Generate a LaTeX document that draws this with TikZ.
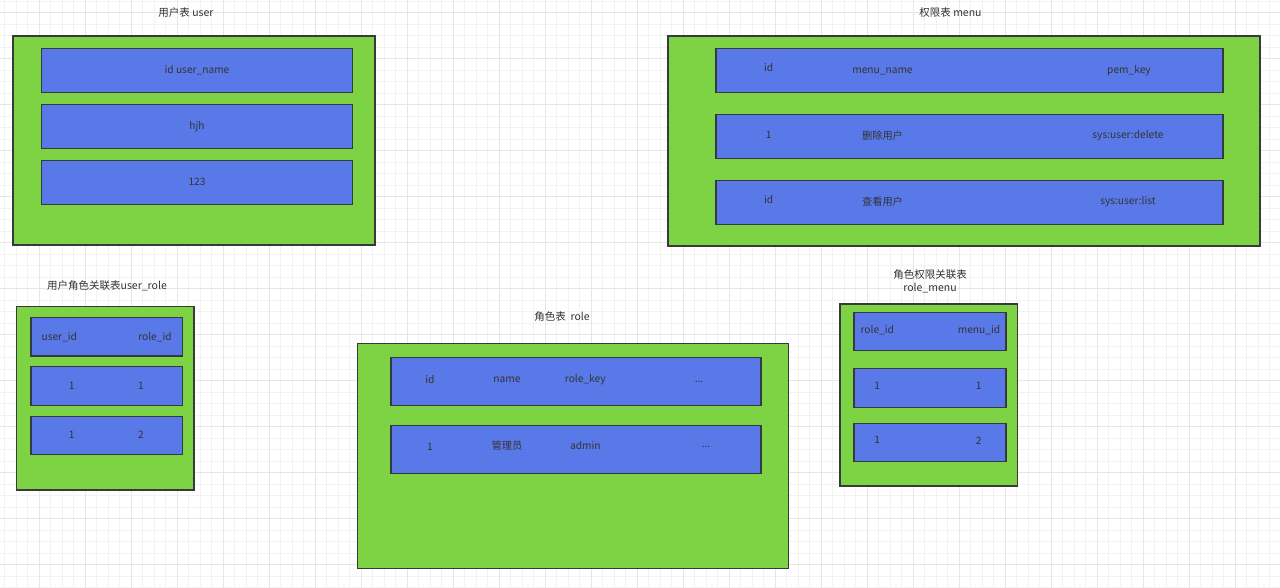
\documentclass[tikz,border=0pt]{standalone}
\usepackage{fontspec}
\setmainfont{Noto Sans CJK SC}
\usetikzlibrary{positioning}

\definecolor{tblgreen}{HTML}{7ED344}
\definecolor{rowblue}{HTML}{5A79E8}
\definecolor{edgegray}{HTML}{36393D}
\definecolor{txtgray}{HTML}{333333}
\definecolor{gridminor}{HTML}{F2F2F2}
\definecolor{gridmajor}{HTML}{E6E6E6}

\begin{document}
\begin{tikzpicture}
		[x=1bp, y=-1bp, node distance={12bp},
		tbl/.style = {draw=edgegray, fill=tblgreen, line width=1.2bp, anchor=north west, inner sep=0, outer sep=0},
		row/.style = {draw=edgegray, fill=rowblue, line width=1.2bp, anchor=north west, inner sep=0, outer sep=0},
		title/.style = {text=txtgray, font=\fontsize{10.5bp}{13.3bp}\selectfont, align=center, inner sep=0},
		cell/.style = {text=txtgray, font=\fontsize{10.2bp}{12bp}\selectfont, inner sep=0}]
        \useasboundingbox (0,0) rectangle (1280,588);
        \fill[white] (0,0) rectangle (1280,588);

        % background grid
        \foreach \gx in {0,...,111}
            \draw[gridminor, line width=1bp] ({4.5+11.5*\gx},0) -- ++(0,588);
        \foreach \gy in {0,...,51}
            \draw[gridminor, line width=1bp] (0,{1.2+11.5*\gy}) -- ++(1280,0);
        \foreach \gx in {0,...,27}
            \draw[gridmajor, line width=1bp] ({39+46*\gx},0) -- ++(0,588);
        \foreach \gy in {0,...,12}
            \draw[gridmajor, line width=1bp] (0,{12.7+46*\gy}) -- ++(1280,0);

        % user
        \node[title] (usertitle) at (186,12.7) {用户表 user};
        \node[tbl, minimum width=362bp, minimum height=209bp] (user) at (13,36) {};
        \node[row, minimum width=310.6bp, minimum height=44bp] (user1) at (41.7,48.3) {};
        \node[row, minimum width=310.6bp, minimum height=44bp] (user2) [below = of user1] {};
        \node[row, minimum width=310.6bp, minimum height=44bp] (user3) [below = of user2] {};
        \node[cell] at (user1) {id user\_name};
        \node[cell] at (user2) {hjh};
        \node[cell] at (user3) {123};

        % menu
        \node[title] (menutitle) at (950.5,12.7) {权限表 menu};
        \node[tbl, minimum width=592bp, minimum height=210bp] (menu) at (668,36) {};
        \node[row, minimum width=507bp, minimum height=44bp] (menu1) at (716,48.3) {};
        \node[row, minimum width=507bp, minimum height=44bp] (menu2) [below = 22bp of menu1] {};
        \node[row, minimum width=507bp, minimum height=44bp] (menu3) [below = 22bp of menu2] {};
        \node[cell] at (768.7,68) {id};
        \node[cell] at (882.5,71) {menu\_name};
        \node[cell] at (1129,71) {pem\_key};
        \node[cell] at (768.7,134.7) {1};
        \node[cell] at (882.5,136) {删除用户};
        \node[cell] at (1128,136) {sys:user:delete};
        \node[cell] at (768.7,200) {id};
        \node[cell] at (882.5,201.7) {查看用户};
        \node[cell] at (1128,202) {sys:user:list};

        % user_role
        \node[title] (urtitle) at (107,286) {用户角色关联表user\_role};
        \node[tbl, minimum width=177.3bp, minimum height=183.3bp] (ur) at (16.7,306.7) {};
        \node[row, minimum width=151.7bp, minimum height=38.7bp] (ur1) at (31,317.3) {};
        \node[row, minimum width=151.7bp, minimum height=38.7bp] (ur2) [below = 10.7bp of ur1] {};
        \node[row, minimum width=151.7bp, minimum height=38.7bp] (ur3) [below = 10.7bp of ur2] {};
        \node[cell] at (59.3,336.7) {user\_id};
        \node[cell] at (155,336.7) {role\_id};
        \node[cell] at (71.7,385.7) {1};
        \node[cell] at (141,385.7) {1};
        \node[cell] at (71.7,434.7) {1};
        \node[cell] at (141,434.7) {2};

        % role
        \node[title] (roletitle) at (562,316.7) {角色表\ \ role};
        \node[tbl, minimum width=431.4bp, minimum height=225.4bp] (role) at (357.3,343.3) {};
        \node[row, minimum width=370bp, minimum height=47.6bp] (role1) at (391,357.7) {};
        \node[row, minimum width=370bp, minimum height=47.6bp] (role2) [below = 20.4bp of role1] {};
        \node[cell] at (430,380) {id};
        \node[cell] at (507,380) {name};
        \node[cell] at (585.3,380) {role\_key};
        \node[cell] at (699,382) {...};
        \node[cell] at (430,446.7) {1};
        \node[cell] at (507,446) {管理员};
        \node[cell] at (585.3,446) {admin};
        \node[cell] at (706,447) {...};

        % role_menu
        \node[title] (rmtitle) at (930,281.5) {角色权限关联表\\role\_menu};
        \node[tbl, minimum width=177.3bp, minimum height=182bp] (rm) at (840,304) {};
        \node[row, minimum width=152bp, minimum height=38.4bp] (rm1) at (854,312.3) {};
        \node[row, minimum width=152bp, minimum height=38.4bp] (rm2) [below = 18bp of rm1] {};
        \node[row, minimum width=152bp, minimum height=38.4bp] (rm3) [below = 16bp of rm2] {};
        \node[cell] at (877.3,330) {role\_id};
        \node[cell] at (979,330) {menu\_id};
        \node[cell] at (877.3,385.7) {1};
        \node[cell] at (978.7,385.7) {1};
        \node[cell] at (877.3,440.3) {1};
        \node[cell] at (978.7,440.3) {2};
	\end{tikzpicture}
\end{document}
